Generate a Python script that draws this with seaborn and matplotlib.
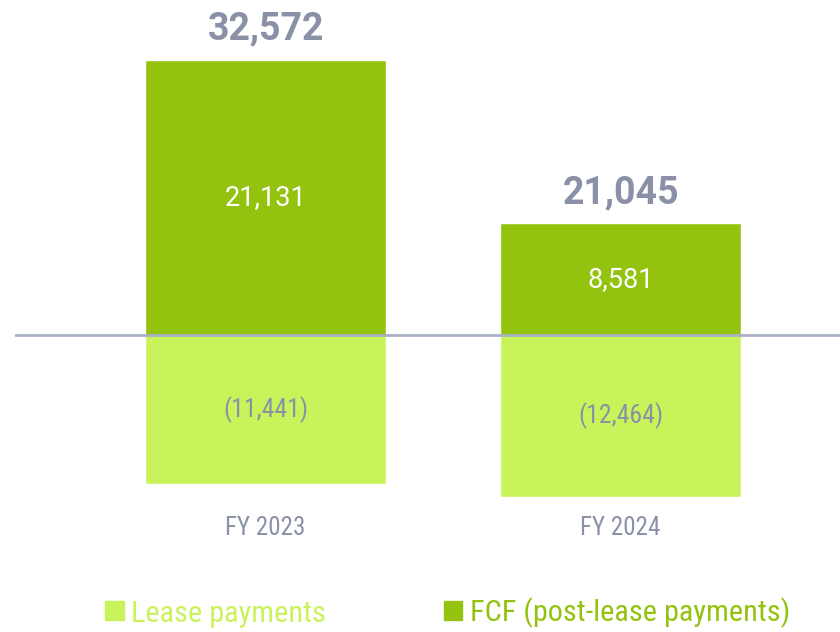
import matplotlib
matplotlib.use("Agg")
import matplotlib.pyplot as plt
import matplotlib.transforms as mtransforms
from matplotlib import font_manager
from matplotlib.patches import Patch
import seaborn as sns
import pandas as pd

# -------------------------------------------------------------------
# Data
# -------------------------------------------------------------------
years = ["FY 2023", "FY 2024"]
fcf_post_lease = [21131, 8581]
lease_payments = [-11441, -12464]
totals = [32572, 21045]

dark_green = "#94c30f"
light_green = "#c9f35a"
label_grey = "#8a90a6"
line_grey = "#aab0c4"

# pick a condensed family if one is installed
fonts = font_manager.fontManager.ttflist
names = {f.name for f in fonts}
narrow, stretch = "Roboto", "normal"
for cand in ["Roboto Condensed", "Liberation Sans Narrow", "Open Sans Condensed"]:
    if cand in names:
        narrow = cand
        break
else:
    if any(f.name == "DejaVu Sans" and f.stretch == "condensed" for f in fonts):
        narrow, stretch = "DejaVu Sans", "condensed"
    elif any(f.name == "Noto Sans" and f.stretch == "condensed" for f in fonts):
        narrow, stretch = "Noto Sans", "condensed"

sns.set_style("white")
plt.rcParams["font.family"] = ["Roboto", "DejaVu Sans"]

fig = plt.figure(figsize=(8.4, 6.32), dpi=100)
ax = fig.add_axes([15 / 840, 0, 825 / 840, 1])

df = pd.DataFrame({"year": years, "fcf": fcf_post_lease, "lease": lease_payments})
sns.barplot(data=df, x="year", y="fcf", color=dark_green, width=0.68,
            saturation=1, ax=ax)
sns.barplot(data=df, x="year", y="lease", color=light_green, width=0.68,
            saturation=1, ax=ax)

ax.set_xlim(-0.706, 1.618)
ax.set_ylim(-22850, 25770)
ax.axhline(0, color=line_grey, lw=2, zorder=3)

narrow_font = {"family": narrow, "stretch": stretch}
for i in range(len(years)):
    # total above the bar
    ax.annotate(f"{totals[i]:,}", (i, fcf_post_lease[i]), xytext=(0, 9),
                textcoords="offset points", ha="center", va="bottom",
                fontsize=27, fontweight="bold", color=label_grey)
    ax.text(i, fcf_post_lease[i] / 2, f"{fcf_post_lease[i]:,}", ha="center",
            va="center", fontsize=19.5, color="white")
    ax.text(i, lease_payments[i] / 2, f"({-lease_payments[i]:,})", ha="center",
            va="center", fontsize=18.5, color=label_grey, **narrow_font)

trans = mtransforms.blended_transform_factory(ax.transData, ax.transAxes)
for i, y in enumerate(years):
    ax.text(i, 1 - 528 / 632, y, transform=trans, ha="center", va="center",
            fontsize=18, color=label_grey, **narrow_font)

ax.set_xlabel("")
ax.set_ylabel("")
ax.set_xticks([])
ax.set_yticks([])
sns.despine(ax=ax, left=True, bottom=True)

handles = [Patch(color=light_green), Patch(color=dark_green)]
leg = fig.legend(handles, ["Lease payments", "FCF (post-lease payments)"],
                 loc="center", bbox_to_anchor=(0.533, 1 - 613 / 632), ncol=2,
                 frameon=False, handlelength=0.6, handleheight=0.6,
                 handletextpad=0.25, columnspacing=3.9,
                 prop={"size": 21.8, **narrow_font})
for text, col in zip(leg.get_texts(), [light_green, dark_green]):
    text.set_color(col)

fig.savefig("out.png", dpi=100)
